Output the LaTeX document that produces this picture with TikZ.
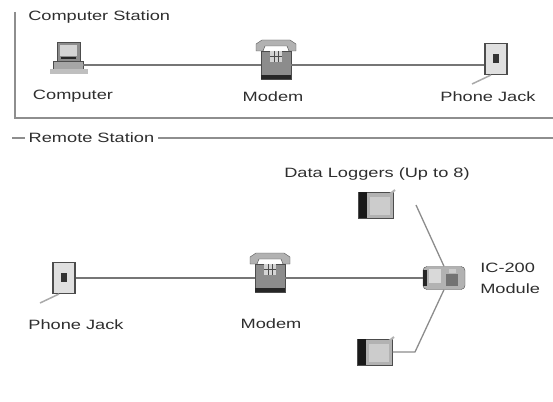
\documentclass[tikz,border=0pt]{standalone}
\usepackage{fontspec}
\setmainfont{Liberation Sans}

\definecolor{wire}{HTML}{767676}
\definecolor{frame}{HTML}{8E8E8E}
\definecolor{cord}{HTML}{AAAAAA}
\definecolor{ink}{HTML}{2E2E2E}
\definecolor{shell}{HTML}{8C8C8C}
\definecolor{face}{HTML}{D4D4D4}
\definecolor{edge}{HTML}{4C4C4C}

\tikzset{
  lbl/.style={font=\fontsize{13.5}{15}\selectfont, xscale=1.35, text=ink, inner sep=0pt},
  wireline/.style={draw=wire, line width=1.6pt},
  busline/.style={draw=black!45, line width=1.3pt},
  frameline/.style={draw=frame, line width=1.2pt},
  % icons
  computer/.pic={
    \filldraw[fill=shell, draw=edge] (-11,-23) rectangle (12,-4);
    \fill[face] (-8,-20) rectangle (9,-9);
    \fill[black!85] (-7,-8) rectangle (8,-6);
    \node[draw=edge, fill=black!35, minimum width=30pt, minimum height=8pt, inner sep=0pt] (-base) at (0,0) {};
    \fill[black!25] (-18,4) rectangle (20,9);
  },
  phone/.pic={
    \filldraw[fill=black!30, draw=edge] (-20,-14) -- (-20,-21) -- (-14,-25) -- (14,-25) -- (20,-21)
      -- (20,-14) -- (13,-14) -- (11,-19) -- (-11,-19) -- (-13,-14) -- cycle;
    \node[draw=edge, fill=shell, minimum width=30pt, minimum height=28pt, inner sep=0pt] (-body) at (0,0) {};
    \fill[face] (-6,-14) rectangle (6,-3);
    \draw[edge, line width=.6pt] (-2,-14) -- (-2,-3) (2,-14) -- (2,-3) (-6,-8.5) -- (6,-8.5);
    \fill[black!85] (-15,10) rectangle (15,14);
  },
  jack/.pic={
    \node[draw=edge, fill=black!12, line width=1.2pt, minimum width=22pt, minimum height=31pt, inner sep=0pt] (-plate) at (0,0) {};
    \fill[black!80] (-3,-5) rectangle (3,4);
    \draw[cord, line width=1.5pt] (-5,16) -- (-24,25);
  },
  logger/.pic={
    \node[draw=edge, fill=black!30, minimum width=35pt, minimum height=26pt, inner sep=0pt] (-box) at (0,0) {};
    \fill[black!90] (-17.5,-13) rectangle (-9,13);
    \fill[black!20] (-6,-8) rectangle (14,10);
    \draw[black!30, line width=2pt] (14,-11) -- (19,-15);
  },
  module/.pic={
    \node[draw=edge, fill=black!30, rounded corners=4pt, minimum width=42pt, minimum height=23pt, inner sep=0pt] (-box) at (0,0) {};
    \fill[black!85] (-21,-8) rectangle (-17,8);
    \fill[black!15] (-15,-9) rectangle (-3,5);
    \fill[black!55] (2,-4) rectangle (14,8);
    \fill[black!20] (5,-9) rectangle (12,-5);
  },
}

\begin{document}
\begin{tikzpicture}[x=1pt, y=-1pt]
    \useasboundingbox (0,0) rectangle (553,401);

    % Computer Station
    % ----------------
    \draw[frameline] (15,12) -- (15,118) -- (553,118);
    \node[lbl, anchor=west] (cstitle) at (28,17) {Computer Station};

    \pic (pcA)    at ( 68,65) {computer};
    \pic (modemA) at (276,65) {phone};
    \pic (jackA)  at (496,59) {jack};

    \node[lbl] (pcAtext)    at ( 73,96) {Computer};
    \node[lbl] (modemAtext) at (273,97) {Modem};
    \node[lbl] (jackAtext)  at (488,97) {Phone Jack};

    \draw[wireline] (pcA-base) -- (modemA-body);
    \draw[wireline] (modemA-body) -- (modemA-body -| jackA-plate.west);

    % Remote Station
    % --------------
    \draw[frameline] (12,138) -- (553,138);
    \node[lbl, fill=white, inner xsep=2.5pt, anchor=west] (rstitle) at (25,138) {Remote Station};

    \node[lbl] (dltext) at (377,174) {Data Loggers (Up to 8)};

    \pic (logA)   at (376,205) {logger};
    \pic (logB)   at (375,352) {logger};
    \pic (modB)   at (444,278) {module};
    \pic (modemB) at (270,278) {phone};
    \pic (jackB)  at ( 64,278) {jack};

    \node[lbl] (jackBtext)  at ( 76,325) {Phone Jack};
    \node[lbl] (modemBtext) at (271,324) {Modem};
    \node[lbl, anchor=west] (modBtext1) at (480,268) {IC-200};
    \node[lbl, anchor=west] (modBtext2) at (480,289) {Module};

    % Links
    % -----
    \coordinate (logAend)  at (416,205);
    \coordinate (logBbend) at (415,352);

    \draw[wireline] (jackB-plate) -- (modemB-body);
    \draw[wireline] (modemB-body) -- (modB-box);
    \draw[busline] (logAend) -- (modB-box.north);
    \draw[busline] (logB-box.east) -- (logBbend) -- (modB-box.south);

\end{tikzpicture}
\end{document}
